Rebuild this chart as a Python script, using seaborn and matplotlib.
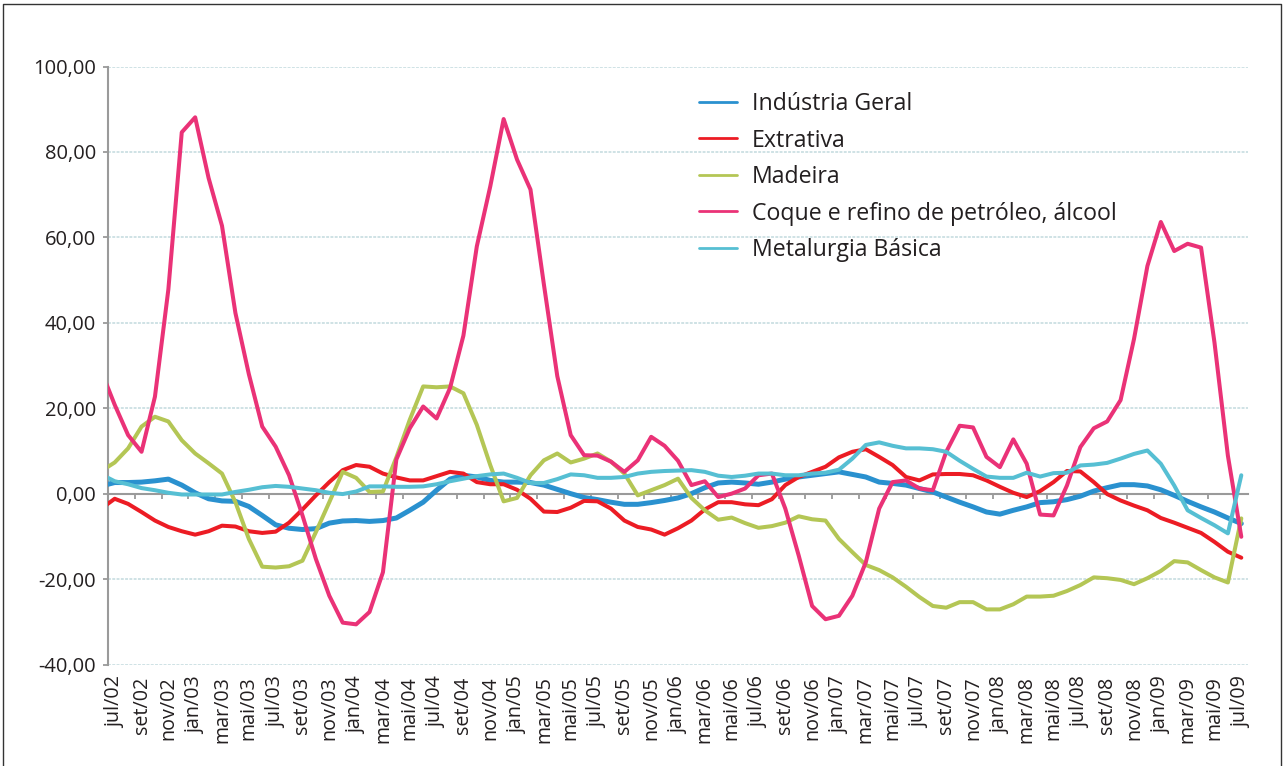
import numpy as np
import matplotlib
matplotlib.use("Agg")
import matplotlib.pyplot as plt
import seaborn as sns
from matplotlib.lines import Line2D
from matplotlib.ticker import FuncFormatter

# Monthly series, jun/02 .. jul/09 (jun/02 only enters from the left edge)
MONTH_ABBR = ['jan', 'fev', 'mar', 'abr', 'mai', 'jun', 'jul', 'ago', 'set', 'out', 'nov', 'dez']
months = [f"{MONTH_ABBR[(5 + k) % 12]}/{2 + (5 + k) // 12:02d}" for k in range(86)]
x_pos = np.arange(-1, 85)

industria_geral = [
    1.8, 2.6, 2.6, 2.7, 3.0, 3.4, 2.0,
    0.2, -1.2, -1.7, -1.8, -3.0, -5.1, -7.3, -8.1, -8.4, -8.2, -6.9, -6.4,
    -6.3, -6.5, -6.3, -5.7, -3.9, -2.0, 0.8, 3.4, 4.3, 3.9, 3.1, 2.7,
    2.7, 2.6, 2.0, 1.0, 0.0, -0.9, -1.4, -2.0, -2.5, -2.5, -2.1, -1.6,
    -1.0, 0.0, 1.4, 2.5, 2.7, 2.5, 2.2, 2.7, 3.4, 3.9, 4.3, 4.7,
    5.1, 4.5, 3.9, 2.7, 2.4, 2.0, 1.2, 0.4, -0.8, -2.0, -3.1, -4.3,
    -4.8, -3.9, -3.1, -2.1, -1.9, -1.4, -0.6, 0.6, 1.4, 2.1, 2.1, 1.8,
    0.9, -0.4, -1.8, -3.1, -4.3, -5.7, -7.0,
]
extrativa = [
    -3.5, -1.2, -2.4, -4.3, -6.3, -7.8, -8.8,
    -9.6, -8.8, -7.5, -7.7, -8.8, -9.2, -8.9, -6.8, -3.7, -0.4, 2.7, 5.5,
    6.7, 6.3, 4.7, 3.8, 3.1, 3.1, 4.1, 5.1, 4.7, 2.7, 2.2, 2.2,
    0.9, -1.2, -4.2, -4.3, -3.3, -1.7, -1.8, -3.5, -6.3, -7.8, -8.4, -9.6,
    -8.1, -6.3, -3.7, -2.0, -2.0, -2.5, -2.7, -1.3, 2.0, 3.9, 5.1, 6.3,
    8.5, 9.8, 10.4, 8.6, 6.7, 3.9, 3.1, 4.5, 4.6, 4.6, 4.3, 3.1,
    1.6, 0.2, -0.8, 0.6, 2.7, 5.3, 5.2, 2.7, -0.1, -1.6, -2.8, -3.9,
    -5.7, -6.8, -8.0, -9.2, -11.3, -13.6, -15.0,
]
madeira = [
    5.3, 7.3, 10.6, 15.7, 18.0, 16.9, 12.5,
    9.4, 7.1, 4.7, -2.0, -10.6, -17.1, -17.3, -17.0, -15.7, -9.0, -2.0, 5.1,
    3.7, 0.4, 0.5, 8.5, 17.3, 25.1, 24.9, 25.1, 23.5, 16.1, 6.7, -1.8,
    -1.0, 4.3, 7.8, 9.4, 7.3, 8.2, 9.4, 7.5, 4.7, -0.4, 0.8, 2.0,
    3.5, -1.0, -3.9, -6.1, -5.6, -6.9, -8.0, -7.6, -6.8, -5.3, -6.0, -6.3,
    -10.6, -13.7, -16.7, -17.9, -19.6, -21.8, -24.2, -26.3, -26.7, -25.4, -25.4, -27.1,
    -27.1, -25.9, -24.1, -24.1, -23.9, -22.8, -21.4, -19.6, -19.8, -20.2, -21.2, -19.8,
    -18.1, -15.8, -16.1, -17.9, -19.6, -20.8, -5.8,
]
coque_petroleo = [
    28.7, 20.8, 13.7, 9.8, 22.7, 47.8, 84.6,
    88.1, 73.9, 62.7, 42.3, 28.0, 15.7, 11.0, 4.3, -5.1, -15.3, -23.9, -30.2,
    -30.6, -27.7, -18.4, 8.0, 15.3, 20.4, 17.6, 24.7, 37.0, 57.9, 71.9, 87.7,
    78.2, 71.2, 49.0, 27.5, 13.7, 9.0, 8.9, 7.5, 5.1, 7.8, 13.3, 11.2,
    7.7, 2.0, 2.9, -0.8, 0.0, 1.2, 4.3, 4.7, -3.5, -14.5, -26.3, -29.4,
    -28.6, -23.9, -16.1, -3.5, 2.7, 3.1, 1.2, 0.8, 9.8, 15.9, 15.5, 8.6,
    6.2, 12.7, 7.0, -4.9, -5.1, 1.9, 10.9, 15.3, 16.9, 21.9, 36.2, 53.3,
    63.6, 56.8, 58.5, 57.6, 35.4, 8.9, -10.1,
]
metalurgia = [
    4.5, 2.9, 2.2, 1.3, 0.8, 0.2, -0.2,
    -0.2, -0.2, -0.2, 0.4, 0.9, 1.5, 1.8, 1.6, 1.2, 0.8, 0.2, -0.1,
    0.5, 1.7, 1.7, 1.6, 1.6, 1.7, 2.2, 2.9, 3.5, 4.1, 4.5, 4.7,
    3.7, 2.5, 2.5, 3.4, 4.5, 4.3, 3.7, 3.7, 3.9, 4.7, 5.1, 5.3,
    5.4, 5.5, 5.1, 4.2, 3.9, 4.2, 4.7, 4.7, 4.3, 4.3, 4.7, 4.9,
    5.6, 8.2, 11.4, 12.0, 11.2, 10.6, 10.6, 10.4, 9.8, 7.7, 5.8, 4.0,
    3.7, 3.7, 4.9, 4.0, 4.8, 4.9, 6.6, 6.8, 7.2, 8.2, 9.3, 10.1,
    7.0, 1.9, -3.9, -5.7, -7.4, -9.3, 4.3,
]

series_names = ["Indústria Geral", "Extrativa", "Madeira",
                "Coque e refino de petróleo, álcool", "Metalurgia Básica"]
series_values = [industria_geral, extrativa, madeira, coque_petroleo, metalurgia]
series_colors = ["#2a91cf", "#ec1c24", "#b4c655", "#ea3277", "#56bfd3"]
series_widths = [3.6, 2.9, 2.9, 2.9, 2.9]

y_ticks = [-40, -20, 0, 20, 40, 60, 80, 100]
grey = "#9a9a9a"
text_col = "#231f20"

sns.set_theme(style="white")
plt.rcParams['font.family'] = ['Open Sans', 'DejaVu Sans']

fig = plt.figure(figsize=(12.85, 7.66), dpi=100)
ax = fig.add_axes([108 / 1285, 1 - 664.5 / 766, 1140 / 1285, 598 / 766])

for name, vals, col, lw in zip(series_names, series_values, series_colors, series_widths):
    sns.lineplot(x=x_pos, y=vals, ax=ax, color=col, linewidth=lw, zorder=3, legend=False)

ax.set_xlim(-0.5, 84.5)
ax.set_ylim(-40, 100)

# y axis
ax.set_yticks(y_ticks)
ax.yaxis.set_major_formatter(FuncFormatter(lambda v, p: f"{v:.2f}".replace('.', ',')))
ax.tick_params(axis='y', left=True, length=3.6, width=1.3, color=grey,
               labelsize=14.5, labelcolor=text_col, pad=5)
ax.yaxis.grid(True, color="#cfe2e5", linewidth=1.4, linestyle=(0, (1.5, 0.7)))
ax.xaxis.grid(False)
ax.set_axisbelow(True)

for s in ['top', 'right']:
    ax.spines[s].set_visible(False)
ax.spines['left'].set_color(grey)
ax.spines['left'].set_linewidth(1.5)
ax.spines['bottom'].set_position(('data', 0))
ax.spines['bottom'].set_color(grey)
ax.spines['bottom'].set_linewidth(1.5)

# tick marks on the zero line, between every second category
ax.set_xticks(np.arange(1.5, 84, 2))
ax.tick_params(axis='x', bottom=True, length=3.6, width=1.3, color=grey,
               labelbottom=False, direction='out')

# month labels along the bottom
sec = ax.secondary_xaxis(location=0)
sec.set_xticks(x_pos[1::2], labels=months[1::2])
sec.tick_params(axis='x', length=0, pad=8.5, labelrotation=90, labelsize=14.2, labelcolor=text_col)
sec.spines['bottom'].set_visible(False)

handles = [Line2D([0], [0], color=c, lw=2) for c in series_colors]
ax.legend(handles, series_names, loc='upper left',
          bbox_to_anchor=(699 / 1285, 1 - 92 / 766), bbox_transform=fig.transFigure,
          frameon=False, fontsize=16.7, handlelength=1.64, handletextpad=0.65,
          labelspacing=0.54, borderpad=0, borderaxespad=0, labelcolor=text_col)

# thin frame around the figure
fig.add_artist(Line2D([3 / 1285, 3 / 1285, 1281 / 1285, 1281 / 1285],
                      [0, 1 - 4 / 766, 1 - 4 / 766, 0],
                      transform=fig.transFigure, color="#333333", lw=1))

fig.savefig("out.png", dpi=100)
